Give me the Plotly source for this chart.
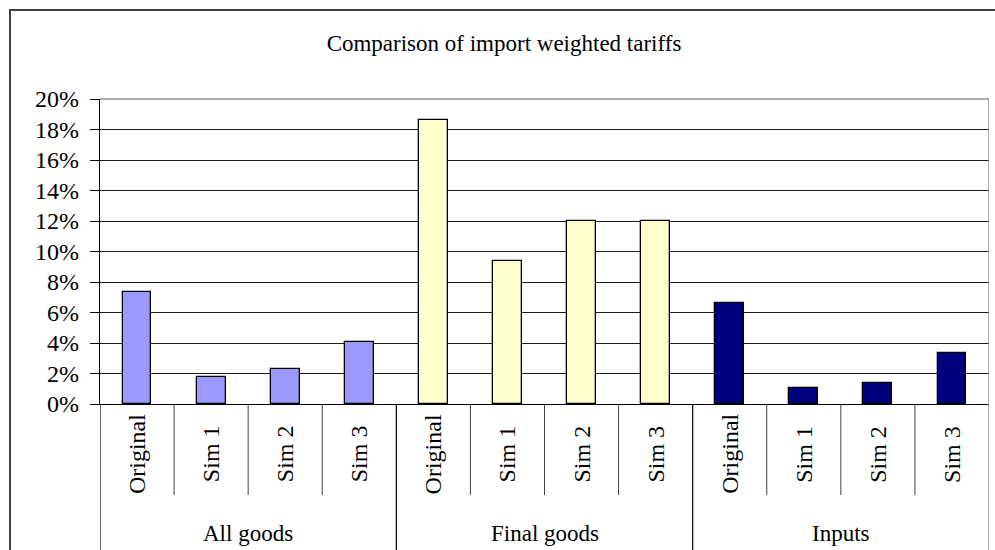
import plotly.graph_objects as go

# ---- data ----
title_text = "Comparison of import weighted tariffs"
groups = ["All goods", "Final goods", "Inputs"]
scenarios = ["Original", "Sim 1", "Sim 2", "Sim 3"]
all_goods = [0.0732, 0.0177, 0.0230, 0.0407]
final_goods = [0.1862, 0.0940, 0.1201, 0.1201]
inputs = [0.0660, 0.0105, 0.0135, 0.0336]
y_ticks = [0.00, 0.02, 0.04, 0.06, 0.08, 0.10, 0.12, 0.14, 0.16, 0.18, 0.20]
group_colors = ["#9999FF", "#FFFFCC", "#000080"]

series = [all_goods, final_goods, inputs]
FONT = "Liberation Serif, Times New Roman, serif"

W, H = 995, 550
L, R, T, B = 100, 6, 99, 146
plot_h = H - T - B
n_sub = len(scenarios)
n_cat = n_sub * len(groups)

fig = go.Figure()
for g, (name, vals, col) in enumerate(zip(groups, series, group_colors)):
    xs = [g * n_sub + s for s in range(n_sub)]
    fig.add_trace(go.Bar(
        x=xs, y=vals, name=name, width=0.39,
        marker=dict(color=col, line=dict(color="#000000", width=1.3)),
        showlegend=False,
    ))

def py(px):
    # pixel y (from top) -> paper y
    return (H - B - px) / plot_h

shapes = []
annotations = []

# category separators below the axis
for k in range(1, n_cat + 1):
    xb = k - 0.5
    if k % n_sub == 0:
        color = "#808080" if k == n_cat else "#000000"
        shapes.append(dict(type="line", xref="x", yref="paper", x0=xb, x1=xb,
                           y0=0 if k != n_cat else 1, y1=py(560),
                           line=dict(color=color, width=1.2), layer="above"))
    else:
        shapes.append(dict(type="line", xref="x", yref="paper", x0=xb, x1=xb,
                           y0=0, y1=py(495),
                           line=dict(color="#404040", width=1), layer="above"))
# left axis extension below
shapes.append(dict(type="line", xref="x", yref="paper", x0=-0.5, x1=-0.5,
                   y0=0, y1=py(560), line=dict(color="#000000", width=1.2), layer="above"))
# top border of plot area (gray)
shapes.append(dict(type="line", xref="paper", yref="paper", x0=0, x1=1, y0=1, y1=1,
                   line=dict(color="#909090", width=1.5), layer="above"))
# outer chart border
shapes.append(dict(type="rect", xref="paper", yref="paper",
                   x0=(10 - L) / (W - L - R), x1=1.2, y0=py(10), y1=py(600),
                   line=dict(color="#404040", width=2), layer="below"))

# sub-category labels (rotated)
for g in range(len(groups)):
    for s, lab in enumerate(scenarios):
        annotations.append(dict(
            x=g * n_sub + s, y=py(454), xref="x", yref="paper",
            text=lab, textangle=-90, showarrow=False,
            xanchor="center", yanchor="middle",
            font=dict(family=FONT, size=24, color="#000000")))
# group labels
for g, name in enumerate(groups):
    annotations.append(dict(
        x=g * n_sub + (n_sub - 1) / 2, y=py(533), xref="x", yref="paper",
        text=name, showarrow=False, xanchor="center", yanchor="middle",
        font=dict(family=FONT, size=23, color="#000000")))

fig.update_layout(
    width=W, height=H,
    margin=dict(l=L, r=R, t=T, b=B, pad=0),
    paper_bgcolor="#FFFFFF", plot_bgcolor="#FFFFFF",
    title=dict(text=title_text, x=504 / W, xanchor="center",
               y=1 - 43 / H, yanchor="middle", xref="container", yref="container",
               font=dict(family=FONT, size=23, color="#000000")),
    shapes=shapes, annotations=annotations,
    bargap=0,
    xaxis=dict(range=[-0.5, n_cat - 0.5], showticklabels=False, ticks="",
               showgrid=False, zeroline=False, showline=True,
               linecolor="#000000", linewidth=1.2, fixedrange=True),
    yaxis=dict(range=[0, 0.2], tickvals=y_ticks, tickformat=".0%",
               ticks="outside", ticklen=9, tickcolor="#000000", tickwidth=1,
               showgrid=True, gridcolor="#1a1a1a", gridwidth=1,
               zeroline=False, showline=True, linecolor="#000000", linewidth=1.2,
               ticklabelstandoff=6,
               tickfont=dict(family=FONT, size=24, color="#000000"), fixedrange=True),
)

fig.write_html("out.html", config={"displayModeBar": False},
               post_script="document.body.style.margin='0';document.body.style.overflow='hidden';")
